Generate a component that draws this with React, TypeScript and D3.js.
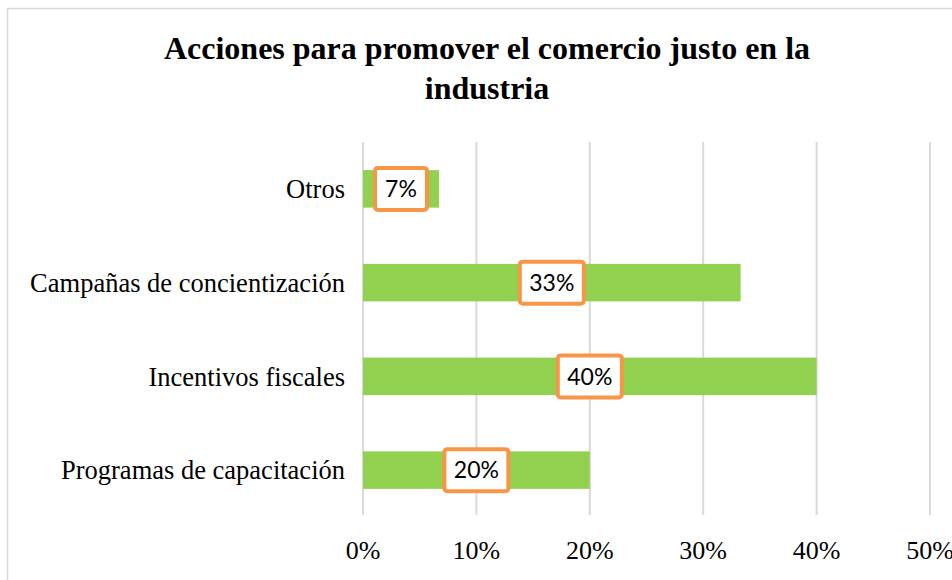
import React from "react";
import * as d3 from "d3";

const categories = ["Otros", "Campañas de concientización", "Incentivos fiscales", "Programas de capacitación"];
const values = [6.7, 33.3, 40, 20];
const labels = ["7%", "33%", "40%", "20%"];
const ticks = [0, 10, 20, 30, 40, 50];
const titleLines = ["Acciones para promover el comercio justo en la", "industria"];

export default function App() {
  const W = 952, H = 580;
  const x = d3.scaleLinear().domain([0, 50]).range([363, 930]);
  const y = d3.scaleBand().domain(categories).range([142, 517]).paddingInner(0.6).paddingOuter(0.3);
  const serif = "'Liberation Serif', 'Times New Roman', serif";
  const sans = "Lato, 'Open Sans', sans-serif";
  return (
    <svg width={W} height={H} style={{ position: "fixed", left: 0, top: 0, background: "#fff" }}>
      <rect x={7.5} y={8.5} width={W + 20} height={H + 20} fill="#fff" stroke="#D9D9D9" strokeWidth={1.5} />
      {titleLines.map((t, i) => (
        <text key={i} x={487} y={59 + i * 40} textAnchor="middle" fontFamily={serif} fontWeight="bold" fontSize={32} fill="#000">{t}</text>
      ))}
      {ticks.map((t) => (
        <line key={t} x1={x(t)} x2={x(t)} y1={142} y2={515} stroke="#D9D9D9" strokeWidth={2} />
      ))}
      {categories.map((c, i) => {
        const by = y(c)!;
        const bh = y.bandwidth();
        const x0 = x(0), x1 = x(values[i]);
        const cx = (x0 + x1) / 2;
        const cy = by + bh / 2;
        const bw = labels[i].length <= 2 ? 52 : 64;
        return (
          <g key={c}>
            <rect x={x0} y={by} width={x1 - x0} height={bh} fill="#92D050" />
            <text x={345} y={cy} dy="0.35em" textAnchor="end" fontFamily={serif} fontSize={26.5} fill="#000">{c}</text>
            <rect x={cx - bw / 2} y={cy - 21} width={bw} height={42} rx={3} fill="#fff" stroke="#F79646" strokeWidth={4} />
            <text x={cx} y={cy} dy="0.36em" textAnchor="middle" fontFamily={sans} fontSize={23} fill="#000">{labels[i]}</text>
          </g>
        );
      })}
      {ticks.map((t) => (
        <text key={t} x={x(t)} y={559} textAnchor="middle" fontFamily={serif} fontSize={26} fill="#000">{t}%</text>
      ))}
    </svg>
  );
}
